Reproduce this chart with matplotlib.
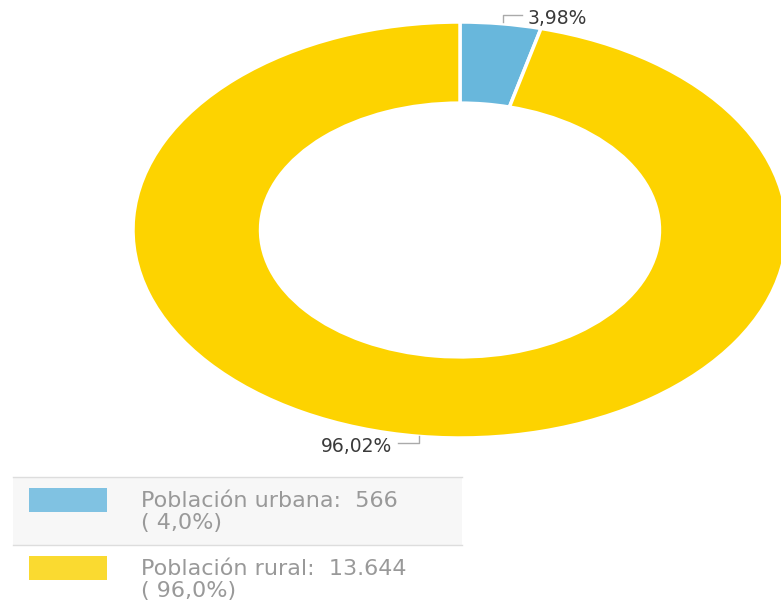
import matplotlib.pyplot as plt
from matplotlib.patches import Rectangle
from matplotlib.lines import Line2D

labels = ['Población urbana', 'Población rural']
values = [566, 13644]
pct_labels = ['3,98%', '96,02%']
legend_texts = ['Población urbana:  566\n( 4,0%)', 'Población rural:  13.644\n( 96,0%)']
pie_colors = ['#68b7dc', '#fdd300']
legend_colors = ['#80c2e2', '#fada30']

plt.rcParams['font.family'] = ['DejaVu Sans']

fig = plt.figure(figsize=(7.81, 6), dpi=100)

# the donut is stretched horizontally in the reference
ax = fig.add_axes([133 / 781, 1 - 438 / 600, 654 / 781, 416 / 600])
ax.pie(values, colors=pie_colors, startangle=90, counterclock=False,
       radius=1, wedgeprops=dict(width=0.39, edgecolor='white', linewidth=2.5))
ax.set_aspect('auto')
ax.set_xlim(-1, 1)
ax.set_ylim(-1, 1)
ax.axis('off')


# figure pixel coords -> figure fraction
def px(x, y):
    return x / 781, 1 - y / 600


# percentage labels with small leader lines
lc = '#aaaaaa'
fig.add_artist(Line2D([px(503, 0)[0], px(503, 0)[0], px(522, 0)[0]],
                      [px(0, 22)[1], px(0, 15)[1], px(0, 15)[1]], color=lc, lw=1))
fig.text(*px(528, 18), pct_labels[0], fontsize=13.5, color='#3a3a3a',
         va='center', ha='left')
fig.add_artist(Line2D([px(398, 0)[0], px(419, 0)[0], px(419, 0)[0]],
                      [px(0, 443)[1], px(0, 443)[1], px(0, 436)[1]], color=lc, lw=1))
fig.text(*px(392, 446), pct_labels[1], fontsize=13.5, color='#3a3a3a',
         va='center', ha='right')

# legend
fig.add_artist(Rectangle(px(13, 545), 449 / 781, 68 / 600, transform=fig.transFigure,
                         facecolor='#f7f7f7', edgecolor='none'))
for y in [477, 545]:
    fig.add_artist(Line2D([px(13, 0)[0], px(462, 0)[0]], [px(0, y)[1]] * 2,
                          color='#dddddd', lw=1))
row_tops = [488, 556]
for i in range(len(labels)):
    fig.add_artist(Rectangle(px(29, row_tops[i] + 24), 78 / 781, 24 / 600,
                             transform=fig.transFigure, facecolor=legend_colors[i],
                             edgecolor='none'))
    fig.text(*px(141, row_tops[i] + 3), legend_texts[i], fontsize=16,
             color='#999999', va='top', ha='left', linespacing=1.12)

fig.savefig('out.png', dpi=100)
